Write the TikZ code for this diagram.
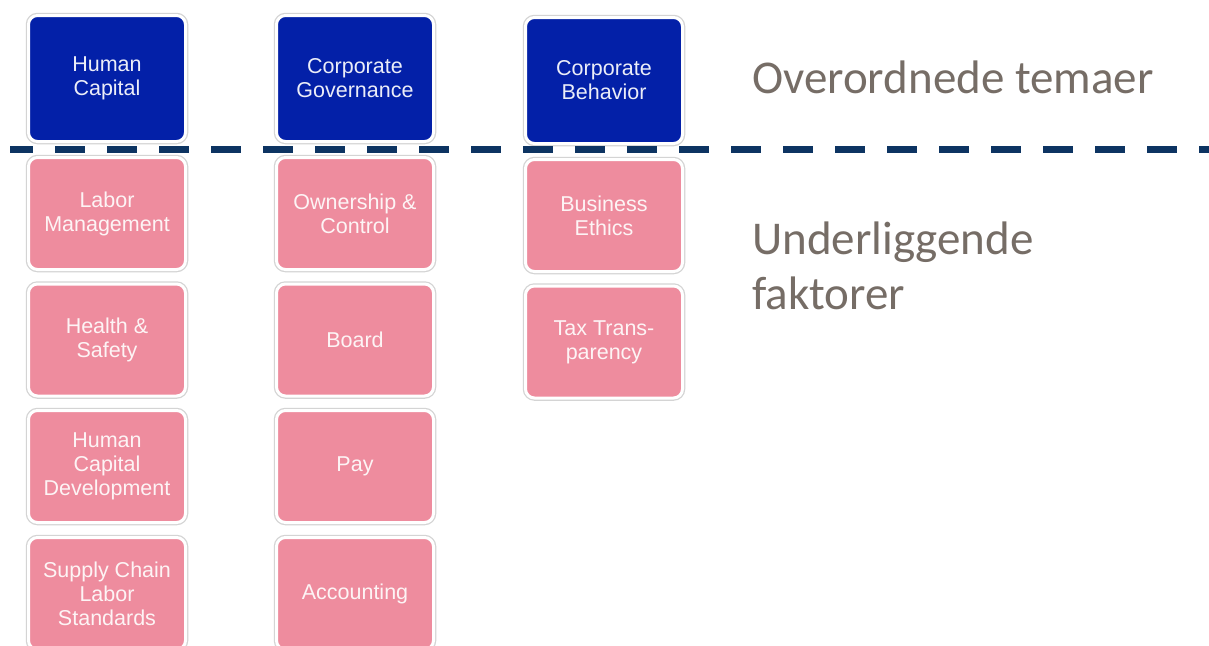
\documentclass[tikz,border=0pt]{standalone}
\usepackage{fontspec}
\setmainfont{Liberation Sans}
\newfontfamily\labelfont{Carlito}
\definecolor{themeblue}{HTML}{0320A8}
\definecolor{factorpink}{HTML}{EE8C9E}
\definecolor{dashnavy}{HTML}{0D3462}
\definecolor{ringgray}{HTML}{D4D4D4}
\definecolor{headtext}{HTML}{766D66}
\begin{document}
\begin{tikzpicture}[x=1pt,y=-1pt,
  tilebox/.style={rectangle, rounded corners=9pt, minimum width=157pt,
    preaction={draw=ringgray, line width=5.5pt},
    draw=white, line width=3pt, align=center, inner sep=0pt,
    font=\fontsize{21.5}{24}\selectfont},
  themebox/.style={tilebox, fill=themeblue, text=white!92!themeblue, minimum height=126pt},
  factorbox/.style={tilebox, fill=factorpink, text=white!90!factorpink, minimum height=112pt},
  sidelabel/.style={anchor=west, text=headtext, align=left, inner sep=0pt,
    font=\labelfont\fontsize{47}{55}\selectfont},
  divider/.style={draw=dashnavy, line width=7pt, dash pattern=on 30pt off 22pt, dash phase=7pt}
]
\useasboundingbox[fill=white] (0,0) rectangle (1209,645);
\clip (0,0) rectangle (1209,645);

% top themes
\node[themebox] (hc) at (107,78.5) {Human\\Capital};
\node[themebox] (cg) at (355,78.5) {Corporate\\Governance};
\node[themebox] (cb) at (604,80.5) {Corporate\\Behavior};

% column 1
\node[factorbox] (lm) at (107,213.5) {Labor\\Management};
\node[factorbox] (hs) at (107,340) {Health \&\\Safety};
\node[factorbox] (hcd) at (107,466.5) {Human\\Capital\\Development};
\node[factorbox] (scl) at (107,593.5) {Supply Chain\\Labor\\Standards};

% column 2
\node[factorbox] (oc) at (355,213.5) {Ownership \&\\Control};
\node[factorbox] (bd) at (355,340) {Board};
\node[factorbox] (py) at (355,466.5) {Pay};
\node[factorbox] (ac) at (355,593.5) {Accounting};

% column 3
\node[factorbox] (be) at (604,215.5) {Business\\Ethics};
\node[factorbox] (tt) at (604,342) {Tax Trans-\\parency};

% divider
\coordinate (dl) at (10,149);
\coordinate (dr) at (1209,149);
\draw[divider] (dl) -- (dr);

% side labels
\node[sidelabel] (over) at (752,77) {Overordnede temaer};
\node[sidelabel] (under) at (752,266) {Underliggende\\faktorer};
\end{tikzpicture}
\end{document}
